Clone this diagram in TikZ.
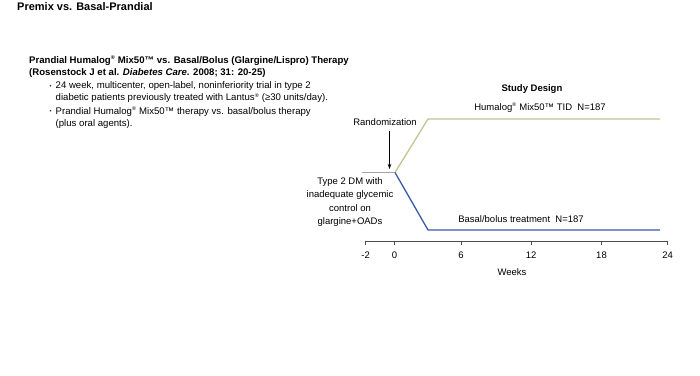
\documentclass[tikz,border=0pt]{standalone}
\usepackage{fontspec}
\setmainfont{Liberation Sans}
\usetikzlibrary{arrows.meta}
\definecolor{olivel}{RGB}{196,196,146}
\definecolor{bluel}{RGB}{58,92,165}
\definecolor{grayl}{RGB}{165,165,165}
\newcommand{\regm}{\textsuperscript{\scalebox{0.8}{®}}}
\tikzset{
  txt/.style={inner sep=0pt, font=\fontsize{9.5}{12}\selectfont},
  lft/.style={inner sep=0pt, anchor=north west, font=\fontsize{9.6}{12.2}\selectfont, align=left},
  bul/.style={circle, fill=black!80, inner sep=0pt, minimum size=1.8pt},
  tick/.style={draw=black!70, line width=0.7pt},
  arm/.style={line width=1.3pt}
}
\begin{document}
\begin{tikzpicture}[x=1pt,y=-1pt]
\useasboundingbox (0,0) rectangle (700,375);
\fill[white] (0,0) rectangle (700,375);
% titles
\node[inner sep=0pt, anchor=west, font=\fontsize{11}{13}\selectfont\bfseries] (title) at (17,7) {Premix vs. Basal-Prandial};
\node[inner sep=0pt, anchor=north west, align=left, font=\fontsize{9.6}{12.4}\selectfont\bfseries] (head) at (29,56)
  {Prandial Humalog\regm{} Mix50™ vs. Basal/Bolus (Glargine/Lispro) Therapy\\
   (Rosenstock J et al. \textit{Diabetes Care}. 2008; 31: 20-25)};
\node[bul] (b1dot) at (50.5,85.8) {};
\node[lft] (b1) at (55.5,81.5) {24 week, multicenter, open-label, noninferiority trial in type 2\\diabetic patients previously treated with Lantus\regm{} (≥30 units/day).};
\node[bul] (b2dot) at (50.5,110.8) {};
\node[lft] (b2) at (55.5,106.5) {Prandial Humalog\regm{} Mix50™ therapy vs. basal/bolus therapy\\(plus oral agents).};
% diagram
\node[txt, font=\fontsize{9.5}{12}\selectfont\bfseries] (sd) at (532,89) {Study Design};
\node[txt] (hum) at (540,108) {Humalog\regm{} Mix50™ TID\ \ N=187};
\node[txt] (bas) at (521,219) {Basal/bolus treatment\ \ N=187};
\node[txt] (rand) at (385,122.5) {Randomization};
\node[txt, align=center, font=\fontsize{9.5}{13.4}\selectfont] (t2) at (350,202) {Type 2 DM with\\inadequate glycemic\\control on\\glargine+OADs};
\coordinate (g0) at (362,172.5);
\coordinate (split) at (395,172.5);
\coordinate (gc) at (428,119);
\coordinate (ge) at (660,119);
\coordinate (bc) at (428,230);
\coordinate (be) at (660,230);
\draw[grayl, line width=1.3pt] (g0) -- (split);
\draw[olivel, arm] (split) -- (gc) -- (ge);
\draw[bluel, arm] (split) -- (bc) -- (be);
\coordinate (ra) at (389.5,131);
\coordinate (rb) at (389.5,169);
\draw[-{Stealth[length=5pt,width=3.5pt]}, line width=0.6pt] (ra) -- (rb);
% axis
\coordinate (a0) at (365.7,241);
\coordinate (a1) at (667.7,241);
\draw[tick] (a0) -- (a1);
\foreach \x/\l in {365.7/-2, 394.6/0, 461/6, 531.2/12, 601.5/18, 667.7/24}{
  \draw[tick] (\x,240.7) -- (\x,245);
  \node[txt] at (\x,255) {\l};
}
\node[txt] (weeks) at (512,272) {Weeks};
\end{tikzpicture}
\end{document}
